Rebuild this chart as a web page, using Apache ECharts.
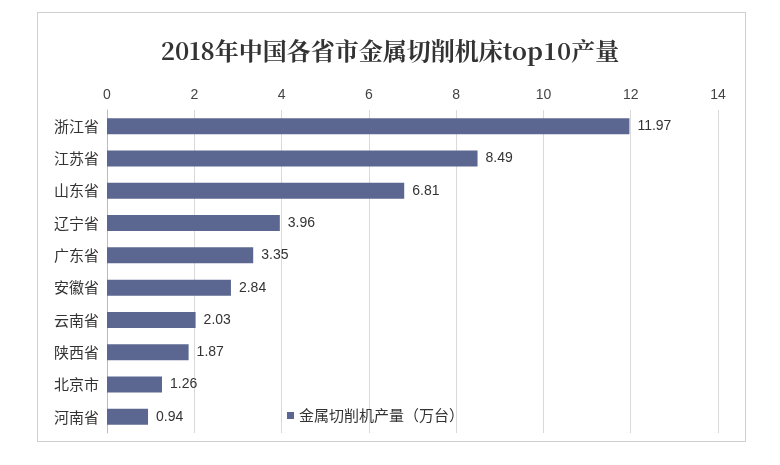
<!DOCTYPE html>
<html><head><meta charset="utf-8">
<script src="https://cdn.jsdelivr.net/npm/echarts@6/dist/echarts.min.js"></script>
<style>html,body{margin:0;padding:0;background:#fff}#c{width:780px;height:465px}
#b{position:absolute;left:37px;top:12px;width:707px;height:428px;border:1px solid #cfcfcf;pointer-events:none}</style>
</head><body><div id="c"></div><div id="b"></div>
<script>
const categories = ["浙江省","江苏省","山东省","辽宁省","广东省","安徽省","云南省","陕西省","北京市","河南省"];
const values = [11.97,8.49,6.81,3.96,3.35,2.84,2.03,1.87,1.26,0.94];
const seriesName = "金属切削机产量（万台）";
const chart = echarts.init(document.getElementById('c'));
chart.setOption({
  animation:false,
  title:{text:"2018年中国各省市金属切削机床top10产量",left:'center',top:34,
    textStyle:{fontFamily:"Noto Serif CJK SC, Noto Sans CJK SC",fontSize:24,fontWeight:'bold',color:'#333'}},
  legend:{data:[seriesName],left:282,top:403,icon:'rect',itemWidth:7,itemHeight:7,itemGap:4,
    textStyle:{fontFamily:"Noto Sans CJK SC",fontSize:15,color:'#333'}},
  grid:{left:107,right:62,top:110,bottom:32},
  xAxis:{type:'value',position:'top',min:0,max:14,interval:2,
    axisLine:{show:false},axisTick:{show:false},
    axisLabel:{fontSize:14,color:'#444',fontFamily:"Liberation Sans"},
    splitLine:{lineStyle:{color:'#d9d9d9'}}},
  yAxis:{type:'category',inverse:true,data:categories,
    axisLine:{lineStyle:{color:'#bbb'}},axisTick:{show:false},
    axisLabel:{fontSize:15,color:'#333',fontFamily:"Noto Sans CJK SC",margin:8}},
  series:[{name:seriesName,type:'bar',data:values,barWidth:16,
    itemStyle:{color:'#5b6790'},
    label:{show:true,position:'right',distance:8,fontSize:14,color:'#333',fontFamily:"Liberation Sans"}}]
});
</script></body></html>
